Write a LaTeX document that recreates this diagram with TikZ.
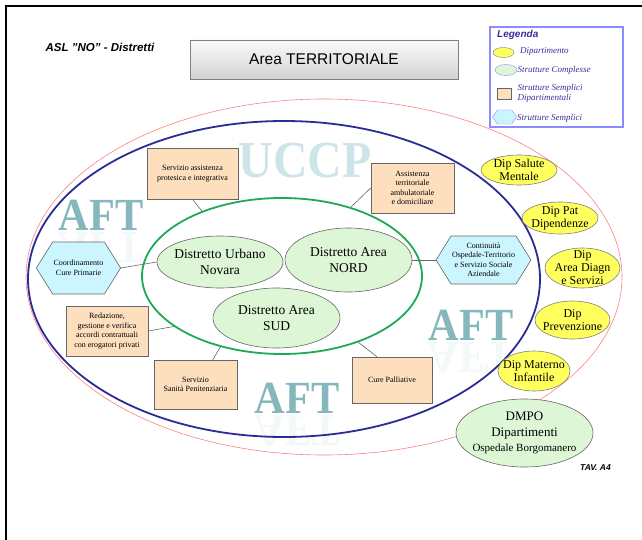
\documentclass[tikz,border=0pt]{standalone}
\usepackage{fontspec}
\setmainfont{Liberation Serif}
\setsansfont{Liberation Sans}
\usetikzlibrary{shapes.geometric,shapes.symbols,shadows,calc}
\definecolor{boxtan}{HTML}{FDDFBE}
\definecolor{lgreen}{HTML}{DDF7D6}
\definecolor{dyellow}{HTML}{FFFF5E}
\definecolor{hexcyan}{HTML}{CCF6FF}
\definecolor{bluering}{HTML}{2B2B98}
\definecolor{greenring}{HTML}{1EAA55}
\definecolor{redring}{HTML}{FF8080}
\definecolor{legblue}{HTML}{8C8CFF}
\definecolor{legtext}{HTML}{3A2E9C}
\definecolor{aftcol}{HTML}{86B7BD}
\definecolor{uccpcol}{HTML}{CDE5E8}
\definecolor{linegray}{HTML}{666666}
\begin{document}
\begin{tikzpicture}[x=1pt,y=-1pt,
  tanbox/.style={draw=linegray, fill=boxtan, line width=0.6pt, align=center,
    font=\fontsize{8}{9.5}\selectfont, inner sep=1pt},
  hexbox/.style={signal, signal to=east and west, signal pointer angle=116,
    draw=linegray, fill=hexcyan, line width=0.6pt, align=center,
    font=\fontsize{8}{9.5}\selectfont, inner sep=1pt},
  distr/.style={ellipse, draw=linegray, fill=lgreen, line width=0.6pt, inner sep=0pt},
  dipell/.style={ellipse, draw=gray, fill=dyellow, line width=0.6pt, inner sep=0pt},
  dtext/.style={align=center, font=\fontsize{13.5}{15.5}\selectfont, inner sep=0pt},
  ytext/.style={align=center, font=\fontsize{12}{13}\selectfont, inner sep=0pt},
  ring/.style={ellipse, inner sep=0pt},
  conn/.style={draw=linegray, line width=0.6pt},
  aft/.style={font=\fontsize{46}{46}\selectfont\bfseries, text=aftcol, anchor=base, inner sep=0pt, xscale=0.92},
  aftr/.style={font=\fontsize{46}{46}\selectfont\bfseries, text=aftcol, anchor=base, inner sep=0pt, xscale=0.92, opacity=0.1},
  uccpst/.style={font=\fontsize{52}{52}\selectfont\bfseries, anchor=base, inner sep=0pt, xscale=0.92},
  legt/.style={font=\fontsize{9}{10}\selectfont\itshape, text=legtext, anchor=west, inner sep=0pt, align=left}
]
\useasboundingbox (0,0) rectangle (642,540);
% frame
\draw[line width=2.3pt] (6,540) -- (6,6) -- (642,6);

% header
\node[font=\fontsize{11.5}{12}\selectfont\sffamily\bfseries\itshape] (asl) at (100,47) {ASL "NO" - Distretti};
\node[draw=gray, line width=0.6pt, top color=gray!4, bottom color=gray!35,
  drop shadow={shadow xshift=1.2pt, shadow yshift=-1.5pt, opacity=0.35},
  minimum width=268, minimum height=39, font=\fontsize{15.5}{16}\selectfont\sffamily] (title) at (324,59.5) {Area TERRITORIALE};

% legend
\node[draw=legblue, line width=1.2pt, fill=white, minimum width=133, minimum height=100, inner sep=0pt] (leg) at (556.5,77) {};
\node[font=\fontsize{10}{11}\selectfont\sffamily\bfseries\itshape, text=legtext, anchor=west, inner sep=0pt] (legh) at (497,35) {Legenda};
\node[ellipse, draw=gray, fill=dyellow, minimum width=21, minimum height=10, inner sep=0pt] (lg1) at (503.5,52.5) {};
\node[legt] (lg1t) at (520,51) {Dipartimento};
\node[ellipse, draw=legblue, fill=lgreen, minimum width=22, minimum height=11, inner sep=0pt] (lg2) at (506,70) {};
\node[legt] (lg2t) at (517.5,70) {Strutture Complesse};
\node[draw=linegray, fill=boxtan, minimum width=14, minimum height=11, inner sep=0pt] (lg3) at (504.5,94) {};
\node[legt] (lg3t) at (517.5,93.5) {Strutture Semplici\\Dipartimentali};
\node[signal, signal to=east and west, signal pointer angle=110, draw=legblue, fill=hexcyan, minimum width=24, minimum height=14, inner sep=0pt] (lg4) at (504.5,117) {};
\node[legt] (lg4t) at (517,118) {Strutture Semplici};

% watermarks
\node[uccpst, text=uccpcol] (uccp) at (305,178) {UCCP};
\node[aft] (aft1) at (101,230) {AFT};
\node[aftr] (aft1r) at (101,232) {\scalebox{1}[-1]{AFT}};
\node[aft] (aft2) at (471,340) {AFT};
\node[aftr] (aft2r) at (471,342) {\scalebox{1}[-1]{AFT}};
\node[aft] (aft3) at (297,413) {AFT};
\node[aftr] (aft3r) at (297,415) {\scalebox{1}[-1]{AFT}};

% rings
\node[ring, draw=redring, line width=0.6pt, minimum width=596, minimum height=356] (rd) at (324,277) {};
\node[ring, draw=bluering, line width=1.8pt, minimum width=512, minimum height=316] (blu) at (284,279) {};
\node[ring, draw=greenring, line width=1.8pt, minimum width=280, minimum height=156] (grn) at (282,276) {};

% districts
\node[distr, minimum width=126, minimum height=52] (urb) at (220,262) {};
\node[dtext] (urbt) at (urb) {Distretto Urbano\\Novara};
\node[distr, minimum width=127, minimum height=64] (nord) at (348.5,260) {};
\node[dtext] (nordt) at (nord) {Distretto Area\\NORD};
\node[distr, minimum width=127, minimum height=60] (sud) at (276.5,318) {};
\node[dtext] (sudt) at (sud) {Distretto Area\\SUD};

% boxes
\node[tanbox, minimum width=91, minimum height=51] (sap) at (192.5,173.5) {Servizio assistenza\\protesica e integrativa};
\node[tanbox, minimum width=83, minimum height=50] (atd) at (412.5,188) {Assistenza\\territoriale\\ambulatoriale\\e domiciliare};
\node[tanbox, minimum width=82, minimum height=50] (rdz) at (107,331) {Redazione,\\gestione e verifica\\accordi contrattuali\\con erogatori privati};
\node[tanbox, minimum width=83, minimum height=49] (pen) at (195.5,384.5) {Servizio\\Sanità Penitenziaria};
\node[tanbox, minimum width=80, minimum height=46] (pal) at (392,380) {Cure Palliative};
\node[hexbox, minimum width=83, minimum height=52] (ccp) at (78.5,268) {Coordinamento\\Cure Primarie};
\node[hexbox, minimum width=87, minimum height=48] (cont) at (483.5,260) {Continuità\\Ospedale-Territorio\\e Servizio Sociale\\Aziendale};

% connectors
\draw[conn] (sap.south) -- (grn.141);
\draw[conn] (atd.west) -- (grn.45);
\draw[conn] (ccp.east) -- (urb.west);
\draw[conn] (nord.east) -- (cont.west);
\draw[conn] (rdz.east) -- (grn.205);
\draw[conn] (pen.55) -- (grn.229);
\draw[conn] (pal.123) -- (grn.319);

% departments
\node[dipell, minimum width=76, minimum height=30] (dsm) at (519,170) {};
\node[ytext] (dsmt) at (dsm) {Dip Salute\\Mentale};
\node[dipell, minimum width=76, minimum height=32] (dpd) at (560,218) {};
\node[ytext] (dpdt) at (dpd) {Dip Pat\\Dipendenze};
\node[dipell, minimum width=75, minimum height=40] (dad) at (582.5,268) {};
\node[ytext] (dadt) at (dad) {Dip\\Area Diagn\\e Servizi};
\node[dipell, minimum width=75, minimum height=38] (dpr) at (572.5,320) {};
\node[ytext] (dprt) at (dpr) {Dip\\Prevenzione};
\node[dipell, minimum width=72, minimum height=40] (dmi) at (534,371) {};
\node[ytext] (dmit) at (dmi) {Dip Materno\\Infantile};
\node[distr, minimum width=137, minimum height=68] (dmpo) at (524.5,433) {};
\node[align=center, inner sep=0pt, font=\fontsize{13}{15.5}\selectfont] (dmpot) at (524.5,433) {DMPO\\Dipartimenti\\{\fontsize{11}{13}\selectfont Ospedale Borgomanero}};

\node[font=\fontsize{8.5}{9}\selectfont\sffamily\bfseries\itshape, inner sep=0pt] (tav) at (595.5,468) {TAV. A4};
\end{tikzpicture}
\end{document}
